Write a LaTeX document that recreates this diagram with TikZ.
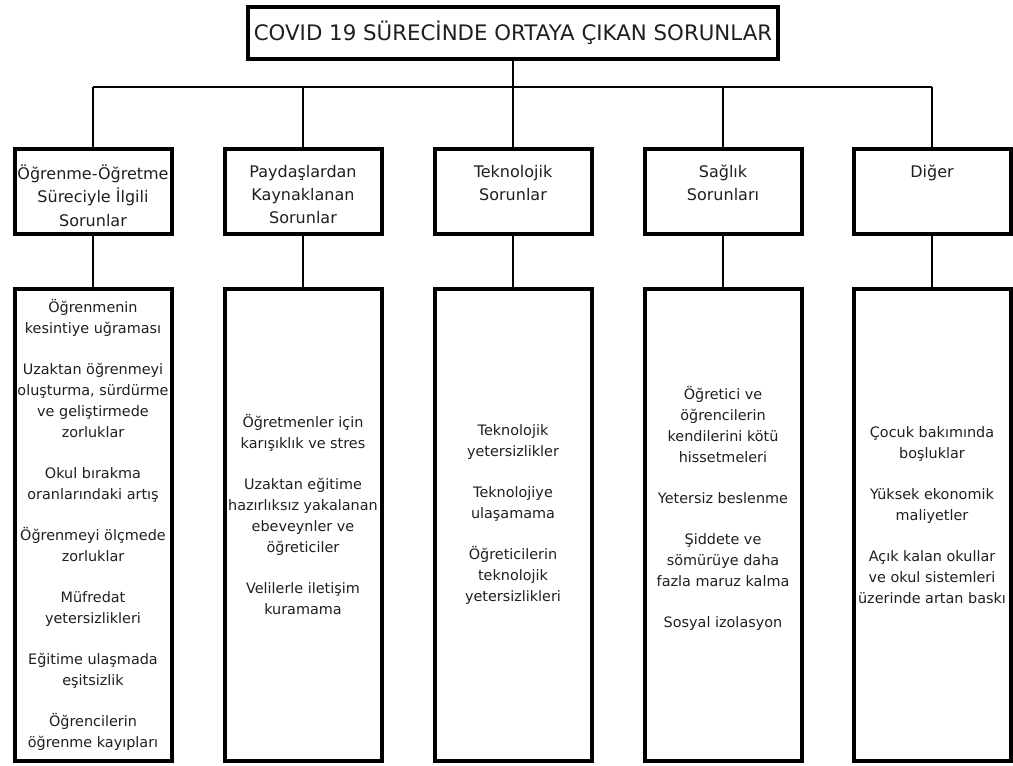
\documentclass[tikz,border=0pt]{standalone}
\usepackage{fontspec}
\setmainfont{DejaVu Sans}

\def\boxw{117.75pt}
\def\cath{63.75pt}
\def\itemh{354pt}
\def\lwidth{3}
\def\gap{\\[15pt]}
\newcommand{\catbody}[1]{\begin{minipage}[c][\cath][t]{\boxw}\centering\fontsize{12}{17.5}\selectfont\vspace*{12pt}#1\end{minipage}}
\newcommand{\itembody}[2][15pt]{\begin{minipage}[c][\itemh][c]{\boxw}\centering\fontsize{10.8}{15.75}\selectfont#2\par\vspace*{#1}\end{minipage}}

\begin{document}
\begin{tikzpicture}[x=0.75pt,y=-0.75pt,text=black!88,
  boxed/.style={rectangle,draw,line width=\lwidth pt,inner sep=0pt},
  titlebox/.style={boxed,minimum width=397pt,minimum height=39pt,font=\fontsize{16}{18}\selectfont},
  catbox/.style={boxed},itembox/.style={boxed},
  link/.style={line width=2pt}]
\useasboundingbox (0,0) rectangle (1013,765);
% top
\node[titlebox] (title) at (513,33) {COVID 19 SÜRECİNDE ORTAYA ÇIKAN SORUNLAR};
\coordinate (bar) at (513,87);
% categories
\node[catbox] (c1) at (93,191.5) {\catbody{Öğrenme-Öğretme\\Süreciyle İlgili\\Sorunlar}};
\node[catbox] (c2) at (303,191.5) {\catbody{Paydaşlardan\\Kaynaklanan\\Sorunlar}};
\node[catbox] (c3) at (513,191.5) {\catbody{Teknolojik\\Sorunlar}};
\node[catbox] (c4) at (723,191.5) {\catbody{Sağlık\\Sorunları}};
\node[catbox] (c5) at (932,191.5) {\catbody{Diğer}};
% problems
\node[itembox] (i1) at (93,525) {\itembody[0pt]{Öğrenmenin\\kesintiye uğraması\gap
  Uzaktan öğrenmeyi\\oluşturma, sürdürme\\ve geliştirmede\\zorluklar\gap
  Okul bırakma\\oranlarındaki artış\gap
  Öğrenmeyi ölçmede\\zorluklar\gap
  Müfredat\\yetersizlikleri\gap
  Eğitime ulaşmada\\eşitsizlik\gap
  Öğrencilerin\\öğrenme kayıpları}};
\node[itembox] (i2) at (303,525) {\itembody{Öğretmenler için\\karışıklık ve stres\gap
  Uzaktan eğitime\\hazırlıksız yakalanan\\ebeveynler ve\\öğreticiler\gap
  Velilerle iletişim\\kuramama}};
\node[itembox] (i3) at (513,525) {\itembody{Teknolojik\\yetersizlikler\gap
  Teknolojiye\\ulaşamama\gap
  Öğreticilerin\\teknolojik\\yetersizlikleri}};
\node[itembox] (i4) at (723,525) {\itembody[25pt]{Öğretici ve\\öğrencilerin\\kendilerini kötü\\hissetmeleri\gap
  Yetersiz beslenme\gap
  Şiddete ve\\sömürüye daha\\fazla maruz kalma\gap
  Sosyal izolasyon}};
\node[itembox] (i5) at (932,525) {\itembody{Çocuk bakımında\\boşluklar\gap
  Yüksek ekonomik\\maliyetler\gap
  Açık kalan okullar\\ve okul sistemleri\\üzerinde artan baskı}};
% lines
\draw[link] (title) -- (bar);
\draw[link] (c1 |- bar) -- (c5 |- bar);
\foreach \i in {1,...,5} {
  \draw[link] (c\i |- bar) -- (c\i);
  \draw[link] (c\i) -- (i\i);
}
\end{tikzpicture}
\end{document}
